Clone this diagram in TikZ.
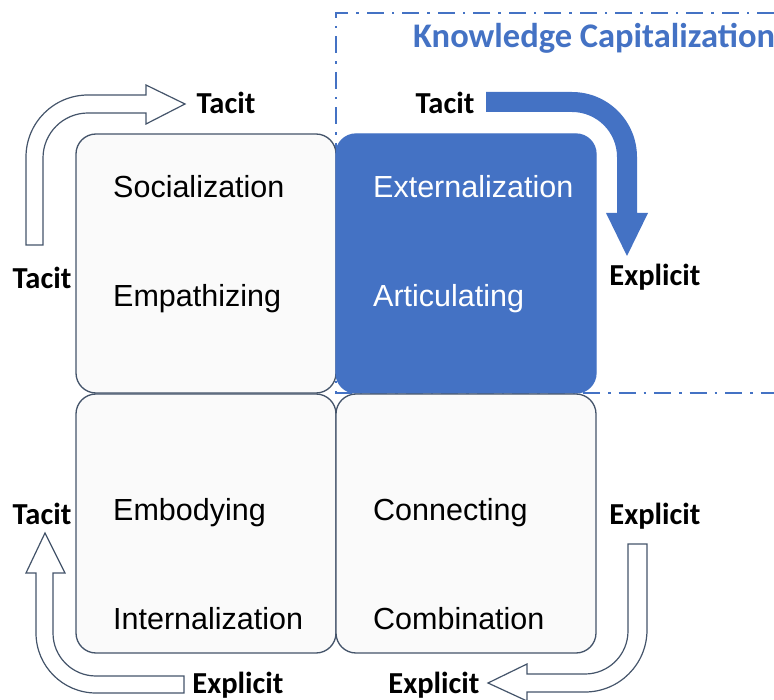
\documentclass[tikz,border=0pt]{standalone}
\usepackage{fontspec}
\setmainfont{Liberation Sans}
\newfontfamily\calfont{Carlito}
\definecolor{kblue}{HTML}{4472C4}
\definecolor{kslate}{HTML}{44546A}
\definecolor{kfill}{HTML}{FAFAFA}
\begin{document}
\begin{tikzpicture}[x=1pt,y=-1pt,
  quad/.style={draw=kslate, line width=1.3pt, fill=kfill, rounded corners=20pt,
    minimum width=260pt, minimum height=259pt, inner sep=0pt, outer sep=0pt, anchor=north west},
  bluequad/.style={quad, draw=kblue, fill=kblue},
  word/.style={font=\fontsize{30.5}{36}\selectfont, anchor=base west, inner sep=0pt},
  wword/.style={word, text=white},
  lab/.style={font=\calfont\bfseries\fontsize{30.5}{36}\selectfont, anchor=base, inner sep=0pt},
  hollow/.style={draw=kslate, line width=1.2pt, fill=white, line join=miter},
]
\useasboundingbox (0,0) rectangle (774,700);

% Knowledge capitalization frame
\draw[kblue, line width=2pt, dash pattern=on 17pt off 8pt on 2.5pt off 8pt]
  (774,13) -- (336,13) -- (336,393) -- (774,393);
\node[font=\calfont\bfseries\fontsize{34.5}{40}\selectfont, text=kblue, anchor=base west, inner sep=0pt]
  (kc) at (413,48) {Knowledge Capitalization};

% quadrants
\node[quad] (soc) at (76,134) {};
\node[bluequad] (ext) at (336,134) {};
\node[quad] (emb) at (76,394) {};
\node[quad] (com) at (336,394) {};

\node[word] (t1) at (113,198) {Socialization};
\node[word] (t2) at (113,307) {Empathizing};
\node[wword] (t3) at (373,198) {Externalization};
\node[wword] (t4) at (373,307) {Articulating};
\node[word] (t5) at (113,520) {Embodying};
\node[word] (t6) at (113,629) {Internalization};
\node[word] (t7) at (373,520) {Connecting};
\node[word] (t8) at (373,629) {Combination};

% top-left hollow arrow
\draw[hollow] (26,245) -- (26,157) arc[start angle=180, end angle=270, radius=62]
  -- (146,95) -- (146,85) -- (185,104) -- (146,124) -- (146,113) -- (88,113)
  arc[start angle=270, end angle=180, radius=45] -- (43,245) -- cycle;

% bottom-left hollow arrow
\draw[hollow] (184,693) -- (96,693) arc[start angle=90, end angle=180, radius=60]
  -- (36,573) -- (26,573) -- (45,533) -- (65,573) -- (53,573) -- (53,633)
  arc[start angle=180, end angle=90, radius=43] -- (184,676) -- cycle;

% bottom-right hollow arrow
\draw[hollow] (628,544) -- (647,544) -- (647,630) arc[start angle=0, end angle=90, radius=62]
  -- (527,692) -- (527,701) -- (488,683) -- (527,664) -- (527,674) -- (585,674)
  arc[start angle=90, end angle=0, radius=43] -- cycle;

% top-right solid arrow
\fill[kblue] (486,92) -- (572,92) arc[start angle=270, end angle=360, radius=65]
  -- (637,213) -- (648,213) -- (627,256) -- (606,213) -- (617,213) -- (617,157)
  arc[start angle=360, end angle=270, radius=45] -- (486,112) -- cycle;

% labels
\node[lab] (a1) at (226,114) {Tacit};
\node[lab] (a2) at (445,114) {Tacit};
\node[lab] (a3) at (655,286) {Explicit};
\node[lab] (a4) at (42,289) {Tacit};
\node[lab] (a5) at (42,524) {Tacit};
\node[lab] (a6) at (655,524) {Explicit};
\node[lab] (a7) at (238,693) {Explicit};
\node[lab] (a8) at (434,693) {Explicit};
\end{tikzpicture}
\end{document}
